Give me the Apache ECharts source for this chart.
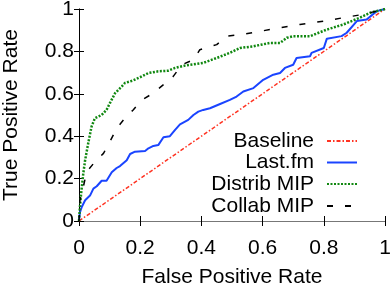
<!DOCTYPE html>
<html>
<head>
<meta charset="utf-8">
<script src="https://cdn.jsdelivr.net/npm/echarts@6/dist/echarts.min.js"></script>
<style>html,body{margin:0;padding:0;background:#fff}#c{width:390px;height:284px}</style>
</head>
<body>
<div id="c"></div>
<script>
var seriesNames = ['Baseline', 'Last.fm', 'Distrib MIP', 'Collab MIP'];
var xTicks = [0, 0.2, 0.4, 0.6, 0.8, 1];
var baselineX = [0, 1];
var baselineY = [0, 1];
var lastfmX = [0,0.003,0.009,0.02,0.036,0.047,0.058,0.074,0.09,0.107,0.123,0.134,0.156,0.167,0.183,0.216,0.227,0.243,0.259,0.276,0.297,0.314,0.33,0.357,0.374,0.39,0.406,0.428,0.461,0.493,0.515,0.537,0.57,0.602,0.635,0.657,0.673,0.70,0.711,0.755,0.76,0.80,0.81,0.858,0.875,0.908,0.94,0.973,1];
var lastfmY = [0,0.04,0.066,0.098,0.12,0.153,0.164,0.19,0.19,0.23,0.25,0.259,0.287,0.316,0.327,0.33,0.343,0.354,0.358,0.395,0.40,0.43,0.456,0.477,0.50,0.516,0.524,0.532,0.552,0.571,0.587,0.611,0.627,0.666,0.69,0.698,0.722,0.737,0.769,0.777,0.793,0.816,0.86,0.872,0.888,0.943,0.95,0.99,1];
var distribX = [0,0.003,0.007,0.014,0.02,0.03,0.041,0.052,0.074,0.09,0.101,0.118,0.14,0.15,0.177,0.205,0.227,0.259,0.292,0.314,0.346,0.363,0.406,0.45,0.493,0.526,0.57,0.624,0.657,0.679,0.70,0.755,0.81,0.864,0.918,0.951,1];
var distribY = [0,0.066,0.13,0.224,0.287,0.366,0.445,0.485,0.50,0.524,0.556,0.603,0.635,0.651,0.663,0.682,0.698,0.706,0.709,0.722,0.733,0.737,0.746,0.769,0.793,0.816,0.824,0.84,0.84,0.864,0.872,0.872,0.903,0.927,0.959,0.982,1];
var collabX = [0,0.003,0.014,0.025,0.052,0.08,0.101,0.123,0.15,0.177,0.205,0.243,0.276,0.308,0.336,0.374,0.395,0.45,0.483,0.532,0.592,0.657,0.722,0.80,0.864,0.93,1];
var collabY = [0,0.098,0.16,0.232,0.279,0.319,0.374,0.437,0.485,0.524,0.571,0.603,0.643,0.682,0.737,0.761,0.808,0.832,0.872,0.88,0.895,0.911,0.927,0.943,0.959,0.975,1];

function zip(a, b) { return a.map(function (v, i) { return [v, b[i]]; }); }

var FONT = "'Liberation Sans', Arial, sans-serif";
var colors = ['#ff3322', '#1a44ff', '#118811', '#000000'];
var styles = [
  { width: 1.5, type: [4, 2, 1.5, 2] },
  { width: 2, type: 'solid' },
  { width: 2.5, type: [2, 1.5] },
  { width: 1.5, type: [6, 12] }
];
var datas = [zip(baselineX, baselineY), zip(lastfmX, lastfmY), zip(distribX, distribY), zip(collabX, collabY)];
var legendCenters = [141.5, 163, 184.5, 206.5];

var series = seriesNames.map(function (n, i) {
  return {
    name: n, type: 'line', data: datas[i], symbol: 'none', animation: false,
    lineStyle: { color: colors[i], width: styles[i].width, type: styles[i].type },
    itemStyle: { color: colors[i] }, z: 2 + i
  };
});

var legends = seriesNames.map(function (n, i) {
  return {
    data: [n], orient: 'vertical', align: 'right', right: 32, top: legendCenters[i] - 11,
    padding: 0, itemWidth: 30, itemHeight: 14, selectedMode: false,
    itemStyle: { opacity: 0 },
    textStyle: { fontFamily: FONT, fontSize: 21, color: '#000', padding: [0, 8, 0, 0] }
  };
});

var chart = echarts.init(document.getElementById('c'), null, { renderer: 'canvas' });
chart.setOption({
  animation: false,
  legend: legends,
  grid: { left: 79, right: 5, top: 9, bottom: 63, containLabel: false, outerBoundsMode: 'none' },
  xAxis: [{
    type: 'value', min: 0, max: 1, interval: 0.2,
    name: 'False Positive Rate', nameLocation: 'middle', nameGap: 46,
    nameTextStyle: { fontFamily: FONT, fontSize: 21, color: '#000' },
    axisLine: { show: true, lineStyle: { color: '#000', width: 1 } },
    axisTick: { show: true, inside: true, length: 5, lineStyle: { color: '#000' } },
    axisLabel: { fontFamily: FONT, fontSize: 21, color: '#000', margin: 17 },
    splitLine: { show: false }
  }, {
    type: 'value', min: 0, max: 1, interval: 0.2, position: 'top',
    axisLine: { show: true, lineStyle: { color: '#777', width: 1 } },
    axisTick: { show: true, inside: true, length: 5, lineStyle: { color: '#000' } },
    axisLabel: { show: false }, splitLine: { show: false }
  }],
  yAxis: [{
    type: 'value', min: 0, max: 1, interval: 0.2,
    name: 'True Positive Rate', nameLocation: 'middle', nameGap: 57,
    nameTextStyle: { fontFamily: FONT, fontSize: 21, color: '#000' },
    axisLine: { show: true, lineStyle: { color: '#777', width: 1 } },
    axisTick: { show: true, inside: true, length: 5, lineStyle: { color: '#000' } },
    axisLabel: { fontFamily: FONT, fontSize: 21, color: '#000', margin: 5 },
    splitLine: { show: false }
  }, {
    type: 'value', min: 0, max: 1, interval: 0.2, position: 'right',
    axisLine: { show: true, lineStyle: { color: '#000', width: 1 } },
    axisTick: { show: true, inside: true, length: 5, lineStyle: { color: '#000' } },
    axisLabel: { show: false }, splitLine: { show: false }
  }],
  series: series
});
</script>
</body>
</html>
